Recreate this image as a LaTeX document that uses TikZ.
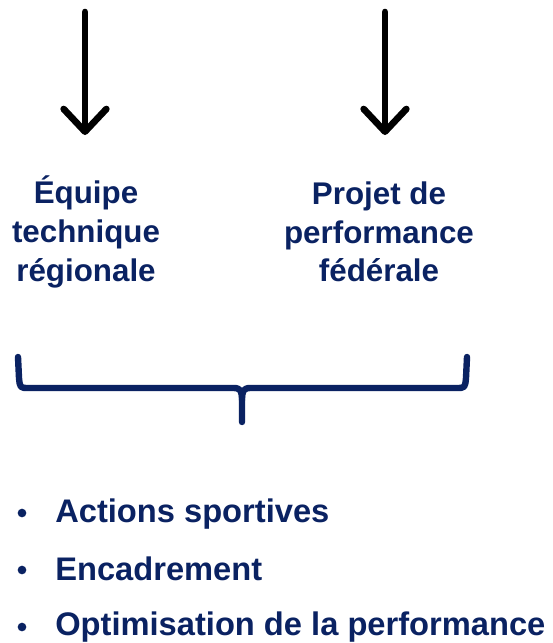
\documentclass[tikz,border=0pt]{standalone}
\usepackage{fontspec}
\setmainfont{Liberation Sans}
\usetikzlibrary{arrows.meta}
\definecolor{navy}{HTML}{0A2262}

\begin{document}
\begin{tikzpicture}[x=0.75pt, y=-0.75pt,
        label/.style={text=navy, font=\fontsize{23.5}{29}\selectfont\bfseries, align=center, inner sep=0pt},
        item/.style={text=navy, font=\fontsize{24.5}{29}\selectfont\bfseries, anchor=base west, inner sep=0pt},
        dot/.style={circle, fill=navy, inner sep=0pt, minimum size=6.5pt},
        down/.style={line width=5pt, line cap=round, -{Straight Barb[length=17pt, width=32pt, line join=round, line cap=round]}}]
        \useasboundingbox (0,0) rectangle (553,643);

        \coordinate (ltop) at (85,12);
        \coordinate (lend) at (85,135);
        \coordinate (rtop) at (385,12);
        \coordinate (rend) at (385,135);

        \node[label] (etr) at (86,232) {Équipe\\technique\\régionale};
        \node[label] (ppf) at (379,232) {Projet de\\performance\\fédérale};

        \draw[down] (ltop) -- (lend);
        \draw[down] (rtop) -- (rend);

        % accolade
        \coordinate (bl) at (18,357);
        \coordinate (br) at (467,357);
        \coordinate (bm) at (242,422);
        \draw[navy, line width=4.8pt, line cap=round, line join=round]
            (bl) -- (19,378) .. controls (20,388) .. (29,388) -- (234,388)
            .. controls (241,388) and (242,392) .. (242,400) -- (bm);
        \draw[navy, line width=4.8pt, line cap=round, line join=round]
            (br) -- (466,378) .. controls (465,388) .. (456,388) -- (250,388)
            .. controls (243,388) and (242,392) .. (242,400);

        \node[dot] (d1) at (22,513) {};
        \node[dot] (d2) at (22,570) {};
        \node[dot] (d3) at (22,627) {};
        \node[item] (act) at (55,522) {Actions sportives};
        \node[item] (enc) at (55,580) {Encadrement};
        \node[item] (opt) at (55,635) {Optimisation de la performance};
    \end{tikzpicture}
\end{document}
